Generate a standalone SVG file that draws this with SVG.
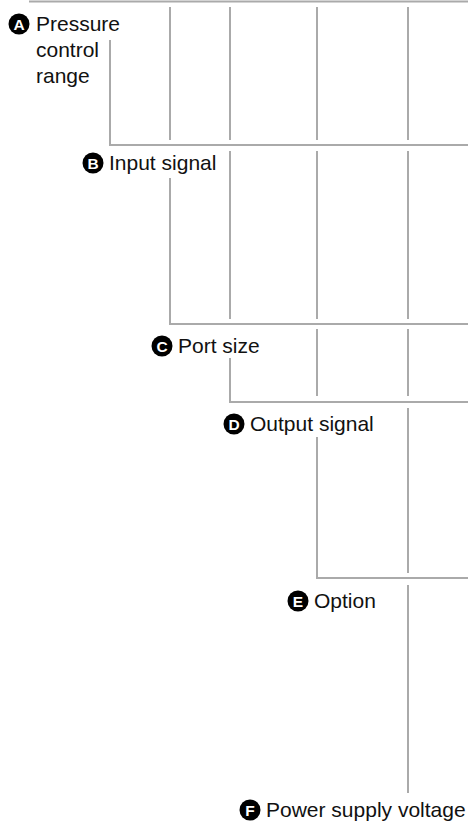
<svg xmlns="http://www.w3.org/2000/svg" width="468" height="824" viewBox="0 0 468 824">
<style>
.ln{fill:none;stroke:#aaaaaa;stroke-width:2}
.lbl{font-family:"Liberation Sans",Arial,sans-serif;font-size:21px;fill:#111}
.badge{fill:#000}
.bt{font-family:"Liberation Sans",Arial,sans-serif;font-size:15.5px;font-weight:bold;fill:#fff;text-anchor:middle}
</style>
<rect width="468" height="824" fill="#fff"/>
<g id="connectors">
<path class="ln" d="M29 1.5H468"/>
<path class="ln" d="M110 40V145H468"/>
<path class="ln" d="M170 7V140M170 178V324H468"/>
<path class="ln" d="M230 7V140M230 151V319M230 358V402H468"/>
<path class="ln" d="M317 7V140M317 151V319M317 329V396M317 437V578H468"/>
<path class="ln" d="M408 7V140M408 151V319M408 329V396M408 408V573M408 585V793"/>
</g>
<g id="A">
<circle class="badge" cx="19" cy="24" r="10.5"/>
<text class="bt" x="19" y="29.5">A</text>
<text class="lbl" x="36" y="31">Pressure</text>
<text class="lbl" x="36" y="57">control</text>
<text class="lbl" x="36" y="83">range</text>
</g>
<g id="B">
<circle class="badge" cx="93" cy="163" r="10.5"/>
<text class="bt" x="93" y="168.5">B</text>
<text class="lbl" x="109" y="170">Input signal</text>
</g>
<g id="C">
<circle class="badge" cx="162" cy="346" r="10.5"/>
<text class="bt" x="162" y="351.5">C</text>
<text class="lbl" x="178" y="353">Port size</text>
</g>
<g id="D">
<circle class="badge" cx="234" cy="424" r="10.5"/>
<text class="bt" x="234" y="429.5">D</text>
<text class="lbl" x="250" y="431">Output signal</text>
</g>
<g id="E">
<circle class="badge" cx="298" cy="601" r="10.5"/>
<text class="bt" x="298" y="606.5">E</text>
<text class="lbl" x="314" y="608">Option</text>
</g>
<g id="F">
<circle class="badge" cx="250" cy="810" r="10.5"/>
<text class="bt" x="250" y="815.5">F</text>
<text class="lbl" x="266" y="817">Power supply voltage</text>
</g>
</svg>
